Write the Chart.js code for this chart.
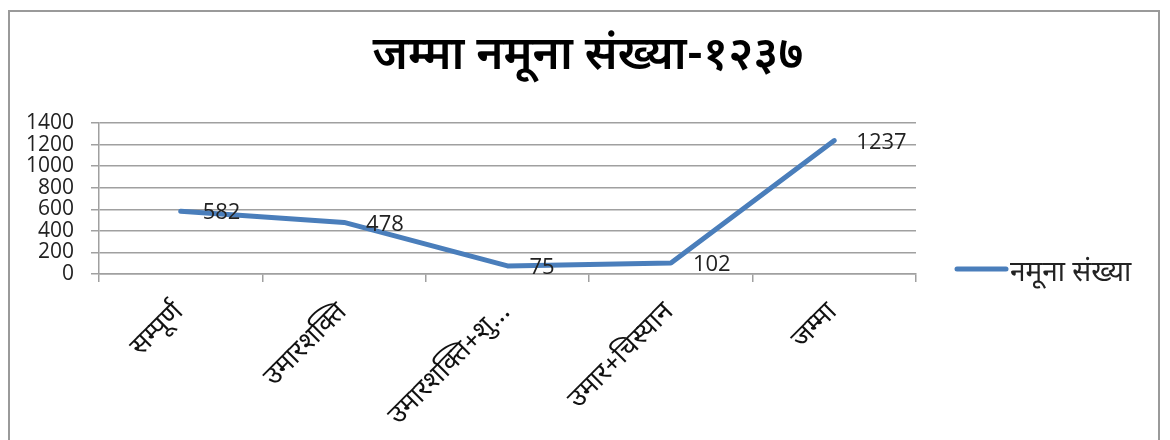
<!DOCTYPE html>
<html>
<head>
<meta charset="utf-8">
<script src="https://cdn.jsdelivr.net/npm/chart.js@4"></script>
<style>
  html, body { margin: 0; padding: 0; background: #fff; }
  #wrap { position: relative; width: 1170px; height: 440px; }
  #frame { position: absolute; left: 8px; top: 10px; width: 1152px; height: 440px; border: 2px solid #9a9a9a; box-sizing: border-box; }
  canvas { position: absolute; left: 0; top: 0; }
</style>
</head>
<body>
<div id="wrap">
  <div id="frame"></div>
  <canvas id="c" width="1170" height="440"></canvas>
</div>
<script>
const chartTitle = "जम्मा नमूना संख्या-१२३७";
const categories = ["सम्पूर्ण", "उमारशक्ति", "उमारशक्ति+शु...", "उमार+चिस्यान", "जम्मा"];
const seriesName = "नमूना संख्या";
const seriesValues = [582, 478, 75, 102, 1237];
const yTicks = [0, 200, 400, 600, 800, 1000, 1200, 1400];

const devFont = '"Noto Sans Devanagari", "Lohit Devanagari", "Noto Sans", "Open Sans", sans-serif';
const numFont = '"Open Sans", "Noto Sans", sans-serif';
const lineColor = '#4a7ebb';
const gridColor = '#a0a0a0';

const extras = {
  id: 'extras',
  afterDatasetsDraw(chart) {
    const ctx = chart.ctx;
    const meta = chart.getDatasetMeta(0);
    ctx.save();
    ctx.fillStyle = '#222';
    ctx.font = '22px ' + numFont;
    ctx.textAlign = 'left';
    ctx.textBaseline = 'middle';
    meta.data.forEach((pt, i) => {
      ctx.fillText(String(seriesValues[i]), pt.x + 22, pt.y + 2);
    });
    ctx.restore();
  },
  afterDraw(chart) {
    const ctx = chart.ctx;
    ctx.save();
    // title
    ctx.fillStyle = '#000';
    ctx.font = '600 46px ' + devFont;
    ctx.textAlign = 'center';
    ctx.textBaseline = 'middle';
    ctx.fillText(chartTitle, 588, 60);
    // legend
    ctx.strokeStyle = lineColor;
    ctx.lineWidth = 5;
    ctx.lineCap = 'round';
    ctx.beginPath();
    ctx.moveTo(957, 269);
    ctx.lineTo(1006, 269);
    ctx.stroke();
    ctx.fillStyle = '#222';
    ctx.font = '28px ' + devFont;
    ctx.textAlign = 'left';
    ctx.textBaseline = 'middle';
    ctx.fillText(seriesName, 1010, 276);
    ctx.restore();
  }
};

new Chart(document.getElementById('c'), {
  type: 'line',
  data: {
    labels: categories,
    datasets: [{
      label: seriesName,
      data: seriesValues,
      borderColor: lineColor,
      backgroundColor: lineColor,
      borderWidth: 5,
      pointRadius: 0,
      tension: 0,
      borderCapStyle: 'round',
      borderJoinStyle: 'round'
    }]
  },
  options: {
    responsive: false,
    animation: false,
    devicePixelRatio: 1,
    layout: { padding: { top: 123, left: 20, right: 254, bottom: 0 } },
    plugins: {
      legend: { display: false },
      title: { display: false },
      tooltip: { enabled: false }
    },
    scales: {
      x: {
        offset: true,
        grid: { offset: true, drawOnChartArea: false, drawTicks: true, tickLength: 8, color: gridColor, lineWidth: 1.5 },
        border: { display: true, color: gridColor, width: 1.5 },
        ticks: {
          autoSkip: false,
          maxRotation: 45,
          minRotation: 45,
          padding: 16,
          color: '#111',
          font: { family: devFont, size: 27 }
        },
        afterFit(scale) { scale.height = 166; scale.paddingLeft = 0; scale.paddingRight = 0; }
      },
      y: {
        min: 0,
        max: 1400,
        afterBuildTicks(scale) { scale.ticks = yTicks.map(v => ({ value: v })); },
        grid: { color: gridColor, lineWidth: 1.5, tickLength: 8, drawTicks: true },
        border: { display: true, color: gridColor, width: 1.5 },
        ticks: {
          autoSkip: false,
          padding: 17,
          color: '#222',
          font: { family: numFont, size: 21, lineHeight: 1 },
          callback: (v) => String(v)
        },
        afterFit(scale) { scale.width = 79; scale.paddingTop = 0; scale.paddingBottom = 0; }
      }
    }
  },
  plugins: [extras]
});
</script>
</body>
</html>
